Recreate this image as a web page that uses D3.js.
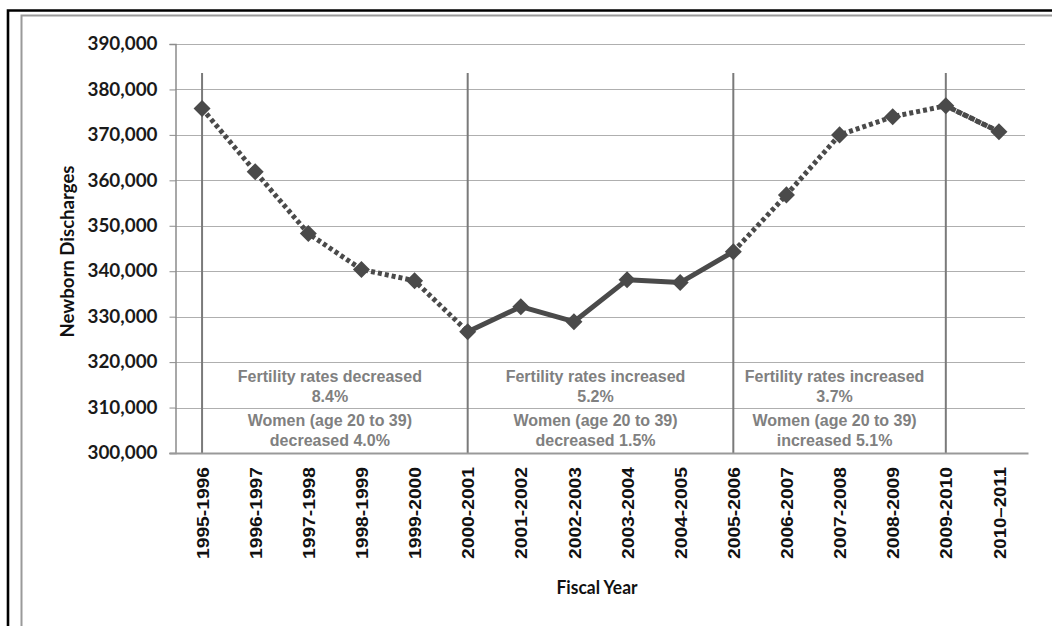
<!DOCTYPE html>
<html>
<head>
<meta charset="utf-8">
<script src="https://cdn.jsdelivr.net/npm/d3@7"></script>
<style>
  html, body { margin: 0; padding: 0; background: #fff; }
  svg { display: block; }
</style>
</head>
<body>
<div id="chart"></div>
<script>
// Newborn discharges by fiscal year
const categories = [
  "1995-1996", "1996-1997", "1997-1998", "1998-1999", "1999-2000",
  "2000-2001", "2001-2002", "2002-2003", "2003-2004", "2004-2005",
  "2005-2006", "2006-2007", "2007-2008", "2008-2009", "2009-2010",
  "2010\u20132011"
];
const discharges = [
  375800, 361900, 348300, 340400, 337900,
  326700, 332200, 328900, 338100, 337500,
  344300, 356800, 370000, 374000, 376400,
  370700
];
const yTicks = [300000, 310000, 320000, 330000, 340000, 350000, 360000, 370000, 380000, 390000];

// Period boundaries (vertical rules) and how each stretch of the line is drawn
const periodBreaks = ["1995-1996", "2000-2001", "2005-2006", "2009-2010"];
const segmentStyles = [
  { from: 0, to: 5, dashed: true },
  { from: 5, to: 10, dashed: false },
  { from: 10, to: 15, dashed: true }
];

// Notes written inside each period
const periodNotes = [
  { from: "1995-1996", to: "2000-2001",
    lines: ["Fertility rates decreased", "8.4%", "Women (age 20 to 39)", "decreased 4.0%"] },
  { from: "2000-2001", to: "2005-2006",
    lines: ["Fertility rates increased", "5.2%", "Women (age 20 to 39)", "decreased 1.5%"] },
  { from: "2005-2006", to: "2009-2010",
    lines: ["Fertility rates increased", "3.7%", "Women (age 20 to 39)", "increased 5.1%"] }
];

const W = 1052, H = 626;
const plot = { left: 175.5, right: 1025.5, top: 44, bottom: 453 };
const ink = "#4a4a4a";

const svg = d3.select("#chart").append("svg")
  .attr("width", W).attr("height", H)
  .style("font-family", "'Liberation Sans', Arial, sans-serif");

svg.append("rect").attr("width", W).attr("height", H).attr("fill", "#fff");

// Frames
svg.append("path")
  .attr("d", `M8,${H} V10.5 H${W}`)
  .attr("fill", "none").attr("stroke", "#000").attr("stroke-width", 2.6);
svg.append("path")
  .attr("d", `M21.5,${H} V15.5 H${W}`)
  .attr("fill", "none").attr("stroke", "#9a9a9a").attr("stroke-width", 2);

const x = d3.scalePoint()
  .domain(categories)
  .range([plot.left, plot.right])
  .padding(0.5);

const y = d3.scaleLinear()
  .domain([300000, 390000])
  .range([plot.bottom, plot.top]);

// Horizontal dotted gridlines
svg.append("g")
  .selectAll("line")
  .data(yTicks.filter(t => t > 300000))
  .join("line")
  .attr("x1", plot.left).attr("x2", plot.right)
  .attr("y1", d => Math.round(y(d)) + 0.5).attr("y2", d => Math.round(y(d)) + 0.5)
  .attr("stroke", "#5e5e5e")
  .attr("stroke-width", 1)
  .attr("stroke-dasharray", "1,1");

// Y axis
const yAxis = d3.axisLeft(y)
  .tickValues(yTicks)
  .tickSize(6)
  .tickPadding(12)
  .tickFormat(d3.format(","));
const gy = svg.append("g")
  .attr("transform", `translate(${plot.left},0)`)
  .call(yAxis);
gy.select(".domain").attr("stroke", "#8c8c8c").attr("stroke-width", 1.5);
gy.selectAll(".tick line").attr("stroke", "#8c8c8c");
gy.selectAll(".tick text")
  .attr("fill", "#1a1a1a")
  .attr("textLength", 70)
  .attr("lengthAdjust", "spacingAndGlyphs")
  .style("font-family", "Lato, 'Open Sans', sans-serif")
  .style("font-weight", "bold")
  .style("font-size", "18px");

// Period rules
svg.append("g")
  .selectAll("line")
  .data(periodBreaks)
  .join("line")
  .attr("x1", d => x(d)).attr("x2", d => x(d))
  .attr("y1", 73).attr("y2", plot.bottom)
  .attr("stroke", "#7a7a7a")
  .attr("stroke-width", 2);

// X axis baseline and rotated category labels
const xAxis = d3.axisBottom(x).tickSize(0).tickPadding(0);
const gx = svg.append("g")
  .attr("transform", `translate(0,${plot.bottom})`)
  .call(xAxis);
gx.select(".domain")
  .attr("d", `M${plot.left - 6},0.5H${plot.right + 3}`)
  .attr("stroke", "#999").attr("stroke-width", 2);
gx.selectAll(".tick text")
  .attr("transform", "rotate(-90)")
  .attr("x", -14)
  .attr("y", 0)
  .attr("dy", "0.36em")
  .attr("text-anchor", "end")
  .attr("fill", "#111")
  .attr("textLength", 92)
  .attr("lengthAdjust", "spacingAndGlyphs")
  .style("font-family", "'Liberation Sans', Arial, sans-serif")
  .style("font-weight", "bold")
  .style("font-size", "17px");

// Period notes
periodNotes.forEach(note => {
  const cx = (x(note.from) + x(note.to)) / 2 - 5;
  const baselines = [382, 402, 426, 446];
  svg.append("g")
    .selectAll("text")
    .data(note.lines)
    .join("text")
    .attr("x", cx)
    .attr("y", (d, i) => baselines[i])
    .attr("text-anchor", "middle")
    .attr("fill", "#808080")
    .style("font-weight", "bold")
    .style("font-size", "16px")
    .text(d => d);
});

// Line, drawn stretch by stretch
const pts = categories.map((c, i) => [x(c), y(discharges[i])]);
const line = d3.line();
segmentStyles.forEach(s => {
  svg.append("path")
    .attr("d", line(pts.slice(s.from, s.to + 1)))
    .attr("fill", "none")
    .attr("stroke", ink)
    .attr("stroke-width", 5)
    .attr("stroke-linejoin", "round")
    .attr("stroke-dasharray", s.dashed ? "4,3" : null);
});
// Final stretch 2009-2010 to 2010-2011 continues the dashed style
svg.append("path")
  .attr("d", line(pts.slice(14, 16)))
  .attr("fill", "none")
  .attr("stroke", ink)
  .attr("stroke-width", 5)
  .attr("stroke-dasharray", "4,3");

// Diamond markers
const diamond = d3.symbol().type(d3.symbolDiamond2).size(185);
svg.append("g")
  .selectAll("path")
  .data(pts)
  .join("path")
  .attr("transform", d => `translate(${d[0]},${d[1]})`)
  .attr("d", diamond)
  .attr("fill", ink);

// Axis titles
svg.append("text")
  .attr("transform", `translate(74,${(plot.top + plot.bottom) / 2 + 3}) rotate(-90)`)
  .attr("text-anchor", "middle")
  .attr("fill", "#111")
  .attr("textLength", 172)
  .attr("lengthAdjust", "spacingAndGlyphs")
  .style("font-family", "Lato, 'Open Sans', sans-serif")
  .style("font-weight", "bold")
  .style("font-size", "18px")
  .text("Newborn Discharges");

svg.append("text")
  .attr("x", 597)
  .attr("y", 594)
  .attr("text-anchor", "middle")
  .attr("fill", "#111")
  .attr("textLength", 81)
  .attr("lengthAdjust", "spacingAndGlyphs")
  .style("font-family", "Lato, 'Open Sans', sans-serif")
  .style("font-weight", "bold")
  .style("font-size", "18px")
  .text("Fiscal Year");
</script>
</body>
</html>
